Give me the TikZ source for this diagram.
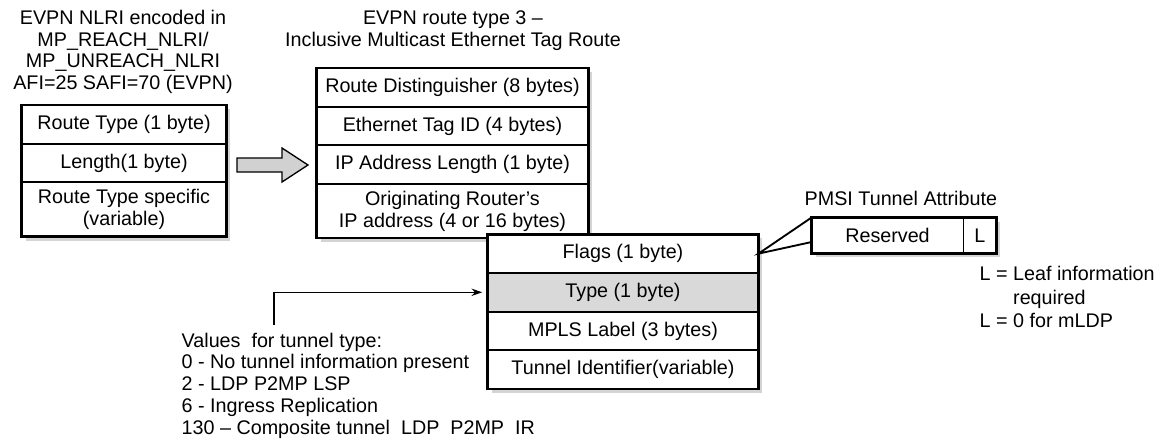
\documentclass[tikz,border=0pt]{standalone}
\usepackage{fontspec}
\setmainfont{Liberation Sans}
\usetikzlibrary{positioning,arrows.meta,backgrounds}

\begin{document}
\begin{tikzpicture}[
  x=0.75pt, y=-0.75pt,
  font=\fontsize{14.8}{16.3}\selectfont,
  fld/.style={draw, line width=0.7pt, fill=white, inner sep=0pt, align=center, minimum height=28.3pt},
  tall/.style={minimum height=40pt},
  lfld/.style={fld, minimum width=153pt},
  mfld/.style={fld, minimum width=203.25pt},
  bfld/.style={fld, minimum width=202.5pt},
  frame/.style={draw, line width=1.8pt},
  shade/.style={fill=black!17},
  lab/.style={align=center},
  note/.style={align=left, anchor=west},
  ptr/.style={line width=0.9pt, -{Stealth[length=8pt,width=5.5pt]}}
]
\useasboundingbox (0,0) rectangle (1157,440);

% NLRI
\node[lab] (nlrititle) at (123,52) {EVPN NLRI encoded in\\MP\_REACH\_NLRI/\\MP\_UNREACH\_NLRI\\AFI=25 SAFI=70 (EVPN)};
\node[lfld, anchor=north] (rtype) at (124,105) {Route Type (1 byte)};
\node[lfld, below=0pt of rtype] (rlen) {Length(1 byte)};
\node[lfld, tall, below=0pt of rlen] (rspec) {Route Type specific\\(variable)};
\draw[frame] (rtype.north west) rectangle (rspec.south east);

% block arrow
\coordinate (arr) at (237,165);
\draw[line width=1pt, fill=black!18] (arr) ++(0,-7) -- ++(45,0) -- ++(0,-10) -- ++(26,17) -- ++(-26,17) -- ++(0,-10) -- ++(-45,0) -- cycle;

% route type 3
\node[lab] (rt3title) at (453,31) {EVPN route type 3 --\\Inclusive Multicast Ethernet Tag Route};
\node[mfld, anchor=north] (rd) at (452.5,68) {Route Distinguisher (8 bytes)};
\node[mfld, below=0pt of rd] (etag) {Ethernet Tag ID (4 bytes)};
\node[mfld, below=0pt of etag] (iplen) {IP Address Length (1 byte)};
\node[mfld, tall, below=0pt of iplen] (orig) {Originating Router's\\IP address (4 or 16 bytes)};
\draw[frame] (rd.north west) rectangle (orig.south east);

% PMSI
\node[bfld, anchor=north] (flags) at (623,234.3) {Flags (1 byte)};
\node[bfld, fill=black!15, below=0pt of flags] (type) {Type (1 byte)};
\node[bfld, below=0pt of type] (label) {MPLS Label (3 bytes)};
\node[bfld, below=0pt of label] (tid) {Tunnel Identifier(variable)};
\draw[frame] (flags.north west) rectangle (tid.south east);

\node[anchor=west] (pmsititle) at (800,198) {PMSI Tunnel Attribute};
\node[fld, minimum width=113.25pt, minimum height=26.25pt] (res) at (887.5,235.5) {Reserved};
\node[fld, minimum width=24pt, minimum height=26.25pt, right=0pt of res] (lbit) {L};
\draw[frame] (res.north west) rectangle (lbit.south east);
\draw[line width=1.4pt, line join=miter] (res.north west) -- (flags.east) -- ([yshift=-4.9pt]res.west);

\node[note, font=\fontsize{14.8}{17.6}\selectfont] (legend) at (975,297) {L = Leaf information\\\phantom{L = }required\\L = 0 for mLDP};

% tunnel types
\node[note] (ttypes) at (177,385.5) {Values\ \ for tunnel type:\\0 - No tunnel information present\\2 - LDP P2MP LSP\\6 - Ingress Replication\\130 -- Composite tunnel\ \ LDP\ \ P2MP\ \ IR};
\coordinate (tstart) at (274,325);
\draw[ptr] (tstart) |- ([xshift=-4pt]type.west);

\begin{scope}[on background layer]
\fill[shade] ([shift={(3pt,-3pt)}]rtype.north west) rectangle ([shift={(3pt,-3pt)}]rspec.south east);
\fill[shade] ([shift={(3pt,-3pt)}]rd.north west) rectangle ([shift={(3pt,-3pt)}]orig.south east);
\fill[shade] ([shift={(3pt,-3pt)}]flags.north west) rectangle ([shift={(3pt,-3pt)}]tid.south east);
\fill[shade] ([shift={(3pt,-3pt)}]res.north west) rectangle ([shift={(3pt,-3pt)}]lbit.south east);
\end{scope}
\end{tikzpicture}
\end{document}
